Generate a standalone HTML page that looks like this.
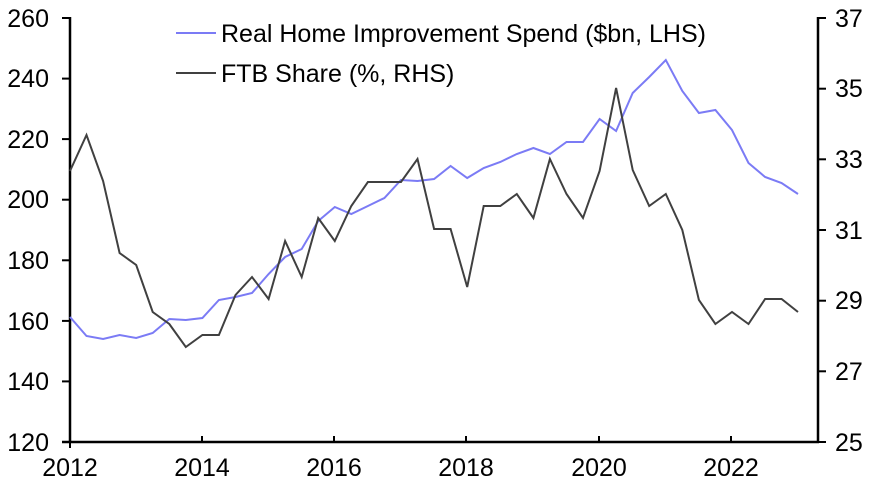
<!DOCTYPE html>
<html><head><style>body{margin:0;background:#fff}svg text{font-family:"Liberation Sans",Arial,sans-serif;font-size:25px;fill:#000}</style></head><body>
<svg width="875" height="484" viewBox="0 0 875 484">
<g stroke="#000" stroke-width="2.5">
<line x1="70" y1="17" x2="70" y2="443"/>
<line x1="818" y1="17" x2="818" y2="443"/>
<line x1="62" y1="442" x2="819" y2="442"/>
</g>
<g stroke="#000" stroke-width="2">
<line x1="62" y1="18" x2="70" y2="18"/><line x1="62" y1="78.6" x2="70" y2="78.6"/><line x1="62" y1="139.1" x2="70" y2="139.1"/><line x1="62" y1="199.7" x2="70" y2="199.7"/><line x1="62" y1="260.3" x2="70" y2="260.3"/><line x1="62" y1="320.9" x2="70" y2="320.9"/><line x1="62" y1="381.4" x2="70" y2="381.4"/>
<line x1="818" y1="18" x2="826" y2="18"/><line x1="818" y1="88.7" x2="826" y2="88.7"/><line x1="818" y1="159.3" x2="826" y2="159.3"/><line x1="818" y1="230" x2="826" y2="230"/><line x1="818" y1="300.7" x2="826" y2="300.7"/><line x1="818" y1="371.3" x2="826" y2="371.3"/><line x1="818" y1="442" x2="826" y2="442"/>
<line x1="70" y1="442" x2="70" y2="448"/><line x1="202" y1="442" x2="202" y2="436"/><line x1="334" y1="442" x2="334" y2="436"/><line x1="466" y1="442" x2="466" y2="436"/><line x1="599" y1="442" x2="599" y2="436"/><line x1="731" y1="442" x2="731" y2="436"/>
</g>
<g text-anchor="end">
<text x="49" y="27">260</text><text x="49" y="87">240</text><text x="49" y="148">220</text><text x="49" y="208">200</text><text x="49" y="269">180</text><text x="49" y="330">160</text><text x="49" y="390">140</text><text x="49" y="451">120</text>
</g>
<g text-anchor="start">
<text x="835" y="27">37</text><text x="835" y="97">35</text><text x="835" y="168">33</text><text x="835" y="239">31</text><text x="835" y="309">29</text><text x="835" y="380">27</text><text x="835" y="451">25</text>
</g>
<g text-anchor="middle">
<text x="70" y="476">2012</text><text x="202" y="476">2014</text><text x="334" y="476">2016</text><text x="466" y="476">2018</text><text x="599" y="476">2020</text><text x="731" y="476">2022</text>
</g>
<polyline fill="none" stroke="#7b7bf5" stroke-width="2" points="70,317 86.5,336 103.1,339 119.6,335 136.2,338 152.7,333 169.3,319 185.8,320 202.4,318 218.9,300 235.5,297 252,293 268.6,274 285.1,257 301.7,249 318.2,221 334.8,207 351.3,214 367.9,206 384.4,198 401,180 417.5,181 434.1,179 450.6,166 467.2,178 483.7,168 500.3,162 516.8,154 533.4,148 549.9,154 566.5,142 583,142 599.6,119 616.1,131 632.7,93 649.2,77 665.8,60 682.3,91 698.9,113 715.4,110 732,130 748.5,163 765.1,177 781.6,183 798,194"/>
<polyline fill="none" stroke="#404040" stroke-width="2" points="70,171 86.5,135 103.1,181 119.6,253 136.2,265 152.7,312 169.3,324 185.8,347 202.4,335 218.9,335 235.5,295 252,277 268.6,299 285.1,241 301.7,277 318.2,218 334.8,241 351.3,206 367.9,182 384.4,182 401,182 417.5,159 434.1,229 450.6,229 467.2,287 483.7,206 500.3,206 516.8,194 533.4,218 549.9,159 566.5,194 583,218 599.6,171 616.1,88 632.7,170 649.2,206 665.8,194 682.3,230 698.9,300 715.4,324 732,312 748.5,324 765.1,299 781.6,299 798,312"/>
<line x1="176" y1="33" x2="216" y2="33" stroke="#7b7bf5" stroke-width="2"/>
<text x="221" y="42">Real Home Improvement Spend ($bn, LHS)</text>
<line x1="176" y1="73" x2="216" y2="73" stroke="#404040" stroke-width="2"/>
<text x="221" y="82">FTB Share (%, RHS)</text>
</svg>
</body></html>
